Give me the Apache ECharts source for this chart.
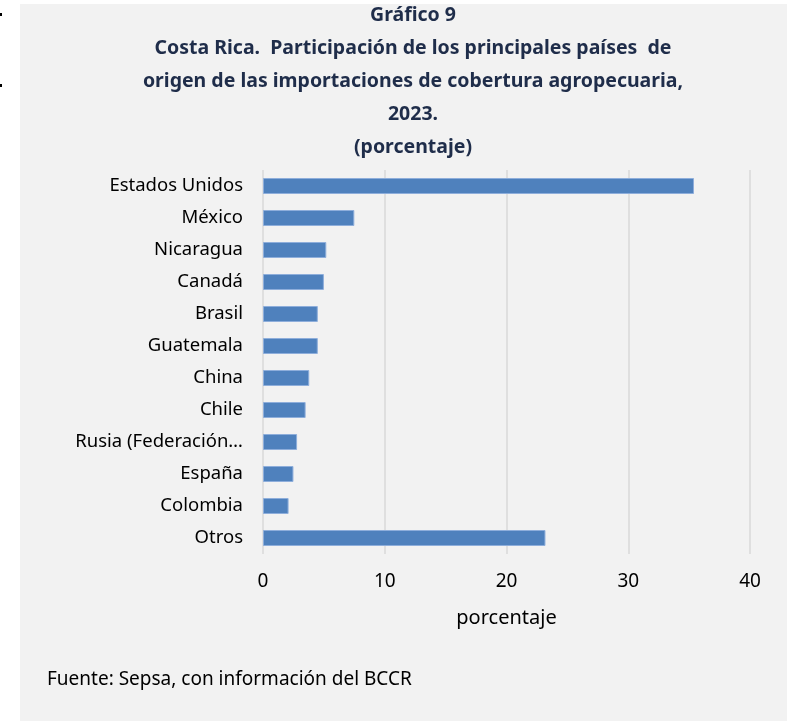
<!DOCTYPE html>
<html>
<head>
<meta charset="utf-8">
<script src="https://cdn.jsdelivr.net/npm/echarts@6/dist/echarts.min.js"></script>
<style>
  html, body { margin: 0; padding: 0; background: #fff; }
  #chart { width: 787px; height: 721px; }
</style>
</head>
<body>
<div id="chart"></div>
<script>
// datos (porcentaje)
const paises = ['Estados Unidos', 'México', 'Nicaragua', 'Canadá', 'Brasil', 'Guatemala',
  'China', 'Chile', 'Rusia (Federación…', 'España', 'Colombia', 'Otros']
const participacion = [35.4, 7.5, 5.2, 5.0, 4.5, 4.5, 3.8, 3.5, 2.8, 2.5, 2.1, 23.2]
const ticksX = [0, 10, 20, 30, 40]

const FONT = 'Noto Sans'
const chart = echarts.init(document.getElementById('chart'))

chart.setOption({
  backgroundColor: '#ffffff',
  animation: false,
  textStyle: { fontFamily: FONT },
  title: {
    text: 'Gráfico 9\nCosta Rica.  Participación de los principales países  de\norigen de las importaciones de cobertura agropecuaria,\n2023.\n(porcentaje)',
    left: 408,
    top: -6,
    textAlign: 'center',
    textStyle: {
      fontFamily: FONT,
      fontSize: 19.5,
      fontWeight: 'bold',
      color: '#1f2d4a',
      lineHeight: 33
    }
  },
  graphic: [
    {
      type: 'rect',
      z: -10,
      silent: true,
      shape: { x: 20, y: 4, width: 767, height: 717 },
      style: { fill: '#f2f2f2' }
    },
    { type: 'rect', shape: { x: 0, y: 13, width: 2, height: 3 }, style: { fill: '#000' } },
    { type: 'rect', shape: { x: 0, y: 84, width: 2, height: 3 }, style: { fill: '#000' } },
    {
      type: 'text',
      left: 47,
      top: 670,
      style: { text: 'Fuente: Sepsa, con información del BCCR', fontFamily: FONT, fontSize: 19, fill: '#000' }
    }
  ],
  grid: {
    left: 263,
    right: 37,
    top: 170,
    bottom: 167
  },
  xAxis: {
    type: 'value',
    min: 0,
    max: 40,
    interval: 10,
    name: 'porcentaje',
    nameLocation: 'middle',
    nameGap: 54,
    nameTextStyle: { fontFamily: FONT, fontSize: 20, color: '#000' },
    axisLine: { show: false },
    axisTick: { show: false },
    axisLabel: {
      margin: 18,
      fontFamily: FONT,
      fontSize: 19,
      color: '#000',
      formatter: v => (ticksX.indexOf(v) >= 0 ? String(v) : '')
    },
    splitLine: { lineStyle: { color: '#d9d9d9', width: 1.5 } }
  },
  yAxis: {
    type: 'category',
    inverse: true,
    data: paises,
    axisLine: { show: false },
    axisTick: { show: false },
    axisLabel: {
      margin: 20,
      fontFamily: FONT,
      fontSize: 18.5,
      color: '#000'
    }
  },
  series: [
    {
      type: 'bar',
      data: participacion,
      barWidth: '50%',
      itemStyle: {
        color: '#4f81bd',
        borderColor: '#8eaedb',
        borderWidth: 1
      }
    }
  ]
})
</script>
</body>
</html>
